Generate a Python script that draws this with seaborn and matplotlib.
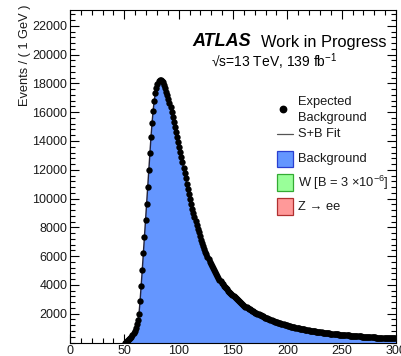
import numpy as np
import pandas as pd
import matplotlib
matplotlib.use("Agg")
import matplotlib.pyplot as plt
import seaborn as sns
from matplotlib.patches import Rectangle
from matplotlib.lines import Line2D

# ---------------- data ----------------
mass_start = 50  # first 1-GeV bin shown
expected_bkg = [
    0, 40, 90, 150, 220, 300, 400, 520, 660, 830,                      # 50-59
    1030, 1270, 1560, 2000, 2900, 3950, 5050, 6200, 7350, 8500,        # 60-69
    9650, 10800, 12000, 13150, 14250, 15250, 16100, 16800, 17300, 17700,  # 70-79
    17970, 18150, 18240, 18250, 18200, 18080, 17900, 17660, 17400, 17180,  # 80-89
    16950, 16660, 16350, 16000, 15650, 15300, 14950, 14620, 14300, 13950,  # 90-99
    13600, 13250, 12900, 12520, 12150, 11770, 11400, 11020, 10650, 10300,  # 100-109
    9950, 9620, 9300, 9000, 8700, 8420, 8150, 7900, 7650, 7400,        # 110-119
    7150, 6920, 6700, 6500, 6300, 6120, 5950, 5770, 5600, 5450,        # 120-129
    5300, 5150, 5010, 4870, 4730, 4600, 4480, 4370, 4260, 4150,        # 130-139
    4050, 3960, 3870, 3780, 3690, 3600, 3520, 3440, 3360, 3280,        # 140-149
    3200, 3130, 3060, 2990, 2920, 2850, 2790, 2730, 2670, 2610,        # 150-159
    2550, 2500, 2450, 2400, 2350, 2300, 2255, 2210, 2165, 2120,        # 160-169
    2080, 2040, 2000, 1960, 1920, 1880, 1845, 1810, 1770, 1735,        # 170-179
    1700, 1670, 1640, 1605, 1570, 1540, 1510, 1485, 1455, 1430,        # 180-189
    1400, 1375, 1350, 1330, 1305, 1280, 1260, 1235, 1215, 1190,        # 190-199
    1170, 1150, 1130, 1110, 1090, 1070, 1055, 1035, 1015, 1000,        # 200-209
    980, 965, 950, 935, 920, 905, 890, 875, 860, 845,                  # 210-219
    830, 818, 806, 794, 782, 770, 758, 746, 734, 722,                  # 220-229
    710, 700, 690, 680, 670, 660, 650, 640, 630, 620,                  # 230-239
    610, 602, 594, 586, 578, 570, 562, 554, 546, 538,                  # 240-249
    530, 523, 516, 509, 502, 495, 488, 481, 474, 467,                  # 250-259
    460, 454, 448, 442, 436, 430, 424, 418, 412, 406,                  # 260-269
    400, 395, 390, 385, 380, 375, 370, 365, 360, 355,                  # 270-279
    350, 346, 342, 338, 334, 330, 326, 322, 318, 314,                  # 280-289
    310, 307, 304, 301, 298, 295, 292, 289, 286, 283,                  # 290-299
]
x_ticks = [0, 50, 100, 150, 200, 250, 300]
y_ticks = [2000, 4000, 6000, 8000, 10000, 12000, 14000, 16000, 18000, 20000, 22000]
legend_labels = ["Expected\nBackground", "S+B Fit", "Background",
                 r"W [B = 3 $\times$10$^{-6}$]", "Z \u2192 ee"]

mass = np.arange(mass_start, mass_start + len(expected_bkg)) + 0.5
df = pd.DataFrame({"mass": mass, "events": np.array(expected_bkg, dtype=float)})

# ---------------- styling ----------------
W, H = 402, 356
sns.set_style("ticks")
plt.rcParams["font.family"] = ["Liberation Sans", "DejaVu Sans"]
plt.rcParams["mathtext.fontset"] = "custom"
plt.rcParams["mathtext.rm"] = "Liberation Sans"
plt.rcParams["mathtext.it"] = "Liberation Sans:italic"
plt.rcParams["mathtext.bf"] = "Liberation Sans:bold"

BLUE = "#6496ff"
TXT = "#1a1a1a"

fig = plt.figure(figsize=(W / 100, H / 100), dpi=100)
fig.patch.set_facecolor("white")

def fx(px):
    return px / W

def fy(py):
    return 1 - py / H

ax_l, ax_r, ax_t, ax_b = 70, 396, 10, 342.5
ax = fig.add_axes([fx(ax_l), fy(ax_b), fx(ax_r) - fx(ax_l), fy(ax_t) - fy(ax_b)])

sns.histplot(data=df, x="mass", weights="events", binwidth=1,
             binrange=(mass_start, mass_start + len(expected_bkg)),
             element="step", fill=True, color=BLUE, alpha=1.0, linewidth=0,
             ax=ax, zorder=1)
sns.lineplot(data=df, x="mass", y="events", color="#22223a", linewidth=1.0,
             ax=ax, zorder=2)
sns.scatterplot(data=df, x="mass", y="events", color="black", s=21,
                linewidth=0, ax=ax, zorder=3)

ax.set_xlim(0, 300)
ax.set_ylim(0, 23100)
ax.set_xlabel("")
ax.set_ylabel("")
ax.set_xticks(x_ticks)
ax.set_xticklabels([str(t) for t in x_ticks])
ax.set_yticks(y_ticks)
ax.set_yticklabels([str(t) for t in y_ticks])
ax.set_xticks(np.arange(0, 301, 10), minor=True)
ax.set_yticks(np.arange(0, 23100, 400), minor=True)
ax.tick_params(which="both", direction="in", top=True, right=True,
               colors="black", width=0.8, labelcolor=TXT, labelsize=9)
ax.tick_params(which="major", length=6.5)
ax.tick_params(which="minor", length=3.6)
ax.tick_params(axis="x", pad=2)
ax.tick_params(axis="y", pad=2)
for s in ax.spines.values():
    s.set_linewidth(0.8)
    s.set_color("black")
    s.set_visible(True)

# y label (ROOT style: aligned at top)
fig.text(fx(25), fy(5), "Events / ( 1 GeV )", rotation=90, ha="center",
         va="top", fontsize=9.2, color=TXT)

# ATLAS label
fig.text(fx(192), fy(46.5), "ATLAS", fontsize=13, fontweight="bold",
         fontstyle="italic", color="black", ha="left", va="baseline")
fig.text(fx(387), fy(46.5), "Work in Progress", fontsize=11.8, color="black",
         ha="right", va="baseline")
fig.text(fx(211), fy(67), "\u221as=13 TeV, 139 fb$^{-1}$", fontsize=10,
         color="black", ha="left", va="baseline")

# legend (manual, ROOT style)
tx = fx(298)
fs = 9.3
fig.add_artist(Line2D([fx(283)], [fy(109)], marker="o", color="black",
                      markersize=4.6, linestyle="none"))
fig.text(tx, fy(102), "Expected", fontsize=fs, va="center", ha="left", color=TXT)
fig.text(tx, fy(118), "Background", fontsize=fs, va="center", ha="left", color=TXT)
fig.add_artist(Line2D([fx(277), fx(293)], [fy(134), fy(134)], color="#555555",
                      linewidth=0.9))
fig.text(tx, fy(134), legend_labels[1], fontsize=fs, va="center", ha="left", color=TXT)

boxes = [(151, 167, BLUE, "#2a3fd0", legend_labels[2]),
         (174, 191, "#99ff99", "#33aa33", legend_labels[3]),
         (198, 215, "#ff9999", "#b03030", legend_labels[4])]
for top, bot, fc, ec, lab in boxes:
    fig.add_artist(Rectangle((fx(277), fy(bot)), fx(293) - fx(277),
                             fy(top) - fy(bot), facecolor=fc, edgecolor=ec,
                             linewidth=0.9, transform=fig.transFigure))
    fig.text(tx, fy((top + bot) / 2), lab, fontsize=fs, va="center",
             ha="left", color=TXT)

fig.savefig("out.png", dpi=100)
